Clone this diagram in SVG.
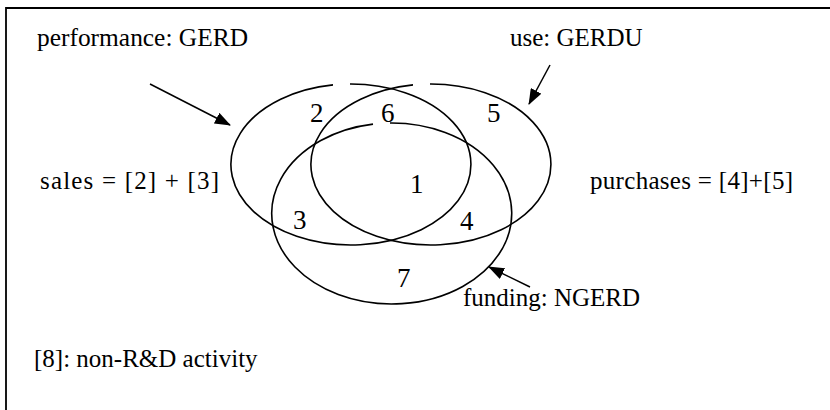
<svg xmlns="http://www.w3.org/2000/svg" width="830" height="410" viewBox="0 0 830 410">
<defs>
<marker id="ah" markerWidth="16" markerHeight="12" refX="15" refY="6" orient="auto" markerUnits="userSpaceOnUse" viewBox="0 0 16 12">
<path d="M0,0 L16,6 L0,12 z" fill="#000"/>
</marker>
<style>
text{font-family:'Liberation Serif','Times New Roman',serif;font-size:25px;fill:#000}
text.num{font-size:27px}
.ell{fill:none;stroke:#000;stroke-width:1.6}
.arr{stroke:#000;stroke-width:1.5;fill:none;marker-end:url(#ah)}
.frame{stroke:#000;stroke-width:1.8;fill:none}
</style>
</defs>
<rect width="830" height="410" fill="#fff"/>
<path class="frame" d="M6,410 V8 H830"/>
<g id="performance">
<path class="ell" d="M350,84 A120,80.5 0 1 1 333,84.9"/>
<text x="37" y="46" textLength="211" lengthAdjust="spacingAndGlyphs">performance: GERD</text>
</g>
<g id="use">
<path class="ell" d="M430,84 A120,80.5 0 1 1 413,84.9"/>
<text x="510" y="46">use: GERDU</text>
</g>
<g id="funding">
<path class="ell" d="M390,123 A120,90.5 0 1 1 373,124.1"/>
<text x="463" y="306">funding: NGERD</text>
</g>
<g id="labels">
<text x="40" y="189" textLength="179" lengthAdjust="spacing">sales = [2] + [3]</text>
<text x="590" y="189" textLength="203" lengthAdjust="spacing">purchases = [4]+[5]</text>
<text x="34" y="367">[8]: non-R&amp;D activity</text>
<text class="num" x="410" y="193">1</text>
<text class="num" x="310" y="122">2</text>
<text class="num" x="381" y="122">6</text>
<text class="num" x="487" y="122">5</text>
<text class="num" x="293" y="229">3</text>
<text class="num" x="460" y="230">4</text>
<text class="num" x="397" y="287">7</text>
</g>
<g id="connectors">
<line class="arr" x1="150" y1="84" x2="230" y2="125"/>
<line class="arr" x1="550" y1="65" x2="529" y2="104"/>
<line class="arr" x1="530" y1="287" x2="489" y2="267"/>
</g>
</svg>
